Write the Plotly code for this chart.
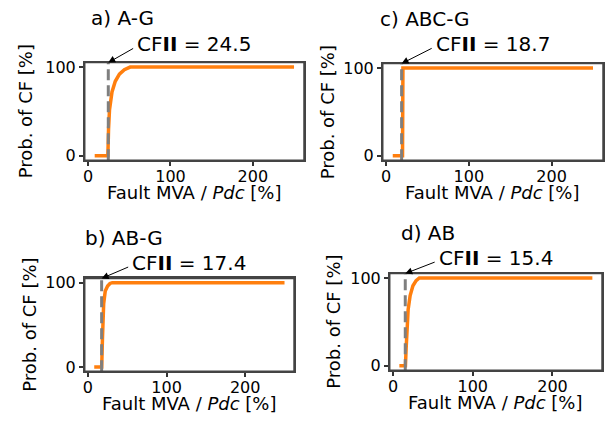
import plotly.graph_objects as go

# ---------------- data ----------------
panel_titles = ["a) A-G", "c) ABC-G", "b) AB-G", "d) AB"]
cfii_values = [24.5, 18.7, 17.4, 15.4]

a_x = [8, 24, 24.8, 26, 29, 33, 38, 44, 51, 250]
a_y = [0, 0, 30, 52, 72, 84, 92, 97, 100, 100]

c_x = [8, 19.8, 20.3, 250]
c_y = [0, 0, 100, 100]

b_x = [8, 17.5, 18.5, 20, 22, 25, 28, 31, 250]
b_y = [0, 0, 35, 75, 90, 96, 99, 100, 100]

d_x = [8, 15.6, 16.5, 17.5, 19, 21.5, 25, 29, 33, 250]
d_y = [0, 0, 20, 40, 64, 80, 91, 97, 100, 100]

series_x = [a_x, c_x, b_x, d_x]
series_y = [a_y, c_y, b_y, d_y]

x_tick_vals = [0, 100, 200]
y_tick_vals = [0, 100]
x_label = "Fault MVA / <i>Pdc</i> [%]"
y_label = "Prob. of CF [%]"

# ---------------- layout geometry (pixels) ----------------
W, H = 607, 425
FONT = "DejaVu Sans"
# (left, right, top, bottom) of each axes box
boxes = [(83, 303, 59, 159),
         (382, 603, 60, 159),
         (83, 293, 280, 375),
         (389, 602, 275, 374)]
title_pos = [(121, 13), (424, 14), (122.5, 239), (427.5, 234)]
cf_text_y = [40, 40, 264, 259]
ylab_x = [24, 326.5, 28, 333]


def px(x):
    return x / W


def py(y):
    return 1 - y / H


fig = go.Figure()
annotations = []
shapes = []

for i in range(4):
    xs, ys = series_x[i], series_y[i]
    span_x = max(xs) - min(xs)
    xr = [min(xs) - 0.05 * span_x, max(xs) + 0.05 * span_x]
    yr = [-5, 105]
    l, r, t, b = boxes[i]
    sfx = "" if i == 0 else str(i + 1)
    xa, ya = "x" + sfx, "y" + sfx

    fig.add_trace(go.Scatter(x=xs, y=ys, mode="lines", xaxis=xa, yaxis=ya,
                             line=dict(color="#ff7f0e", width=3.5),
                             showlegend=False, hoverinfo="skip"))

    axis_common = dict(showline=True, mirror=True, linecolor="#444", linewidth=1.5,
                       ticks="outside", ticklen=4, tickwidth=1.5, tickcolor="#333",
                       showgrid=False, zeroline=False,
                       tickfont=dict(family=FONT, size=16, color="black"))
    fig.update_layout(**{
        "xaxis" + sfx: dict(domain=[px(l), px(r)], range=xr, anchor=ya,
                            tickvals=x_tick_vals, ticklabelstandoff=-3, **axis_common),
        "yaxis" + sfx: dict(domain=[py(b), py(t)], range=yr, anchor=xa,
                            tickvals=y_tick_vals, **axis_common),
    })

    cf = cfii_values[i]
    # dashed vertical line at CFII
    shapes.append(dict(type="line", xref=xa, yref=ya + " domain", x0=cf, x1=cf,
                       y0=0, y1=1, layer="above",
                       line=dict(color="#7f7f7f", width=3, dash="11px,5px")))
    # axes frame
    shapes.append(dict(type="rect", xref="paper", yref="paper",
                       x0=px(l), x1=px(r), y0=py(b), y1=py(t), layer="above",
                       line=dict(color="#444", width=1.5)))

    # panel title
    annotations.append(dict(text=panel_titles[i], x=px(title_pos[i][0]), y=py(title_pos[i][1]),
                            xref="paper", yref="paper", xanchor="center", yanchor="middle",
                            showarrow=False, font=dict(family=FONT, size=20, color="black")))
    # CFII text
    cx = (l + r) / 2
    annotations.append(dict(text="CF<b>II</b> = %.1f" % cf, x=px(cx), y=py(cf_text_y[i]),
                            xref="paper", yref="paper", xanchor="center", yanchor="middle",
                            showarrow=False, font=dict(family=FONT, size=20, color="black")))
    # arrow from text to top of the dashed line
    tip_px = l + (cf - xr[0]) / (xr[1] - xr[0]) * (r - l)
    tip_py = t
    tail_px = cx - 60
    tail_py = cf_text_y[i] + 4
    annotations.append(dict(text="", x=cf, y=yr[1], xref=xa, yref=ya,
                            ax=tail_px - tip_px, ay=tail_py - tip_py,
                            showarrow=True, arrowhead=2, arrowsize=1.4, arrowwidth=1,
                            arrowcolor="black", font=dict(size=1)))
    # axis titles
    annotations.append(dict(text=x_label, x=px(cx), y=py(b + 33),
                            xref="paper", yref="paper", xanchor="center", yanchor="middle",
                            showarrow=False, font=dict(family=FONT, size=18, color="black")))
    annotations.append(dict(text=y_label, x=px(ylab_x[i]), y=py((t + b) / 2),
                            xref="paper", yref="paper", xanchor="center", yanchor="middle",
                            textangle=-90, showarrow=False,
                            font=dict(family=FONT, size=18, color="black")))

fig.update_layout(width=W, height=H, margin=dict(l=0, r=0, t=0, b=0),
                  paper_bgcolor="white", plot_bgcolor="white",
                  font=dict(family=FONT, color="black"),
                  annotations=annotations, shapes=shapes)

fig.write_html("out.html", config={"displayModeBar": False},
               post_script="document.body.style.margin='0';document.body.style.overflow='hidden';")
